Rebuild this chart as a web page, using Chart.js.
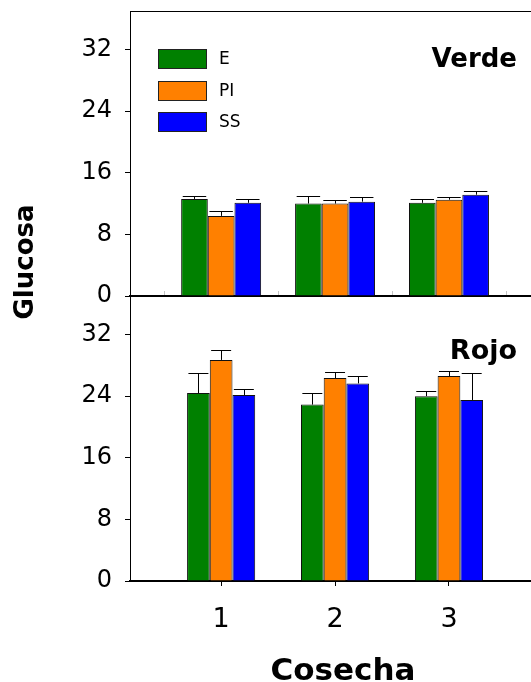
<!DOCTYPE html>
<html>
<head>
<meta charset="utf-8">
<script src="https://cdn.jsdelivr.net/npm/chart.js@4/dist/chart.umd.min.js"></script>
<style>
  html, body { margin: 0; padding: 0; background: #fff; }
  #wrap { position: relative; width: 531px; height: 682px; }
  #wrap canvas { position: absolute; left: 0; top: 0; }
</style>
</head>
<body>
<div id="wrap">
  <canvas id="verde" width="531" height="682"></canvas>
  <canvas id="rojo" width="531" height="682"></canvas>
</div>
<script>
// Harvest (cosecha) categories and the three treatments
const categories = ['1', '2', '3'];
const seriesNames = ['E', 'PI', 'SS'];
const seriesColors = ['#008000', '#FF8000', '#0000FF'];
const yTicks = [0, 8, 16, 24, 32];
const panelNames = ['Verde', 'Rojo'];
const yTitle = 'Glucosa';
const xTitle = 'Cosecha';

// Verde (green fruit): means and upper error
const verdeE  = [12.6, 12.0, 12.1];
const verdePI = [10.4, 12.0, 12.5];
const verdeSS = [12.1, 12.25, 13.15];
const verdeErrE  = [0.35, 0.95, 0.5];
const verdeErrPI = [0.6, 0.4, 0.35];
const verdeErrSS = [0.45, 0.55, 0.5];

// Rojo (red fruit): means and upper error
const rojoE  = [24.4, 22.9, 24.0];
const rojoPI = [28.7, 26.35, 26.6];
const rojoSS = [24.15, 25.65, 23.5];
const rojoErrE  = [2.6, 1.5, 0.65];
const rojoErrPI = [1.3, 0.75, 0.6];
const rojoErrSS = [0.8, 0.9, 3.5];

const FONT = "'DejaVu Sans', sans-serif";

// Upper error whiskers with a cap, drawn over each bar
const errorBars = {
  id: 'errorBars',
  afterDatasetsDraw(chart) {
    const ctx = chart.ctx;
    const yScale = chart.scales.y;
    ctx.save();
    ctx.strokeStyle = '#000';
    ctx.lineWidth = 1;
    chart.data.datasets.forEach((ds, i) => {
      const meta = chart.getDatasetMeta(i);
      meta.data.forEach((bar, j) => {
        const top = Math.round(yScale.getPixelForValue(ds.data[j] + ds.errors[j])) + 0.5;
        const half = bar.width * 0.44;
        const x = Math.round(bar.x) + 0.5;
        ctx.beginPath();
        ctx.moveTo(x, bar.y);
        ctx.lineTo(x, top);
        ctx.moveTo(bar.x - half, top);
        ctx.lineTo(bar.x + half, top);
        ctx.stroke();
      });
    });
    ctx.restore();
  }
};

// Panel frame, panel name, legend and shared axis titles
const panelDecor = {
  id: 'panel',
  afterDraw(chart, args, o) {
    const ctx = chart.ctx;
    const ca = chart.chartArea;
    ctx.save();
    ctx.fillStyle = '#000';
    ctx.strokeStyle = '#000';
    ctx.lineWidth = 1;

    if (o.frameTop) {
      ctx.beginPath();
      ctx.moveTo(ca.left, ca.top + 0.5);
      ctx.lineTo(ca.right, ca.top + 0.5);
      ctx.stroke();
    }

    if (o.innerTicks) {
      const xs = chart.scales.x;
      ctx.strokeStyle = '#c4c4c4';
      xs.ticks.forEach(t => {
        const px = Math.round(xs.getPixelForValue(t.value)) + 0.5;
        ctx.beginPath();
        ctx.moveTo(px, ca.bottom - 1);
        ctx.lineTo(px, ca.bottom - 5);
        ctx.stroke();
      });
      ctx.strokeStyle = '#000';
    }

    ctx.font = `bold ${o.titleSize}px ${FONT}`;
    ctx.textAlign = 'right';
    ctx.textBaseline = 'alphabetic';
    ctx.fillText(o.text, ca.right - 14, ca.top + o.titleBaseline);

    if (o.legend) {
      ctx.font = `17px ${FONT}`;
      ctx.textAlign = 'left';
      ctx.textBaseline = 'middle';
      chart.data.datasets.forEach((ds, i) => {
        const bx = ca.left + 28;
        const by = Math.round(ca.top + 38 + i * 31.5);
        ctx.fillStyle = ds.backgroundColor;
        ctx.fillRect(bx, by, 49, 20);
        ctx.strokeStyle = '#222';
        ctx.strokeRect(bx + 0.5, by + 0.5, 48, 19);
        ctx.fillStyle = '#000';
        ctx.fillText(ds.label, bx + 49 + 12, by + 10.5);
      });
    }

    if (o.axisTitles) {
      ctx.fillStyle = '#000';
      ctx.font = `bold 31px ${FONT}`;
      ctx.textAlign = 'center';
      ctx.textBaseline = 'alphabetic';
      ctx.fillText(xTitle, ca.left + 213, chart.height - 2);

      ctx.save();
      ctx.font = `bold 26px ${FONT}`;
      ctx.translate(ca.left - 97, ca.top - 34);
      ctx.rotate(-Math.PI / 2);
      ctx.fillText(yTitle, 0, 0);
      ctx.restore();
    }
    ctx.restore();
  }
};

function panelChart(canvasId, values, errors, cfg) {
  return new Chart(document.getElementById(canvasId), {
    type: 'bar',
    data: {
      labels: categories,
      datasets: seriesNames.map((name, k) => ({
        label: name,
        data: values[k],
        errors: errors[k],
        backgroundColor: seriesColors[k],
        borderColor: '#111',
        borderWidth: 1,
        categoryPercentage: cfg.groupWidth,
        barPercentage: 1
      }))
    },
    options: {
      responsive: false,
      animation: false,
      events: [],
      layout: { padding: { top: cfg.padTop, left: 0, right: 0, bottom: 0 } },
      plugins: {
        legend: { display: false },
        tooltip: { enabled: false },
        panel: cfg.panel
      },
      scales: {
        x: {
          type: 'linear',
          min: 0.2,
          max: 3.72,
          offset: false,
          position: 'bottom',
          afterBuildTicks: s => { s.ticks = cfg.xTickValues.map(v => ({ value: v })); },
          afterFit: s => { s.height = cfg.xAxisHeight; s.paddingLeft = 0; s.paddingRight = 0; },
          ticks: {
            display: cfg.showXLabels,
            padding: 18,
            color: '#000',
            font: { family: FONT, size: 27 },
            callback: v => categories.find(c => +c === v) ?? ''
          },
          grid: {
            display: true,
            offset: false,
            drawOnChartArea: false,
            drawTicks: cfg.showXLabels,
            tickLength: 5,
            color: '#000',
            lineWidth: 1
          },
          border: { display: true, color: '#000', width: 2 }
        },
        y: {
          min: 0,
          max: 37,
          afterBuildTicks: s => { s.ticks = yTicks.map(v => ({ value: v })); },
          afterFit: s => { s.width = 130; s.paddingTop = 0; s.paddingBottom = 0; },
          ticks: {
            padding: 13,
            color: '#000',
            font: { family: FONT, size: 24 }
          },
          grid: {
            drawOnChartArea: false,
            drawTicks: true,
            tickLength: 5,
            color: '#000',
            lineWidth: 1
          },
          border: { display: true, color: '#000', width: 1 }
        }
      }
    },
    plugins: [errorBars, panelDecor]
  });
}

const groupEdges = categories.map(c => +c - 0.5).concat(+categories[categories.length - 1] + 0.5);

panelChart('verde',
  [verdeE, verdePI, verdeSS],
  [verdeErrE, verdeErrPI, verdeErrSS],
  {
    padTop: 11,
    xAxisHeight: 386,
    groupWidth: 0.702,
    showXLabels: false,
    xTickValues: groupEdges,
    panel: { text: panelNames[0], titleSize: 26, titleBaseline: 56, frameTop: true, innerTicks: true, legend: true }
  });

panelChart('rojo',
  [rojoE, rojoPI, rojoSS],
  [rojoErrE, rojoErrPI, rojoErrSS],
  {
    padTop: 296,
    xAxisHeight: 101,
    groupWidth: 0.598,
    showXLabels: true,
    xTickValues: categories.map(Number),
    panel: { text: panelNames[1], titleSize: 27, titleBaseline: 63, axisTitles: true }
  });
</script>
</body>
</html>
